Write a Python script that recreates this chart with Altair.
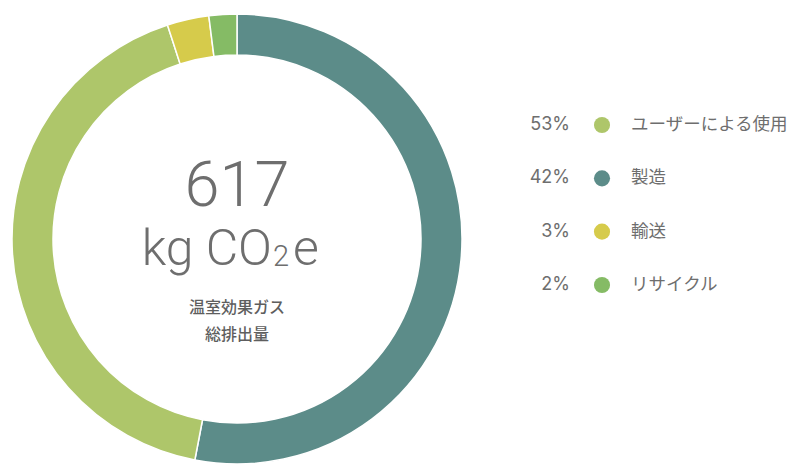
import altair as alt
import pandas as pd

# Ring segments, clockwise from 12 o'clock (as drawn)
seg_names = ["製造", "ユーザーによる使用", "輸送", "リサイクル"]
seg_values = [53, 42, 3, 2]
seg_colors = ["#5c8c89", "#aec66a", "#d6cb4b", "#85bb65"]

# Legend (as drawn)
leg_pct = ["53%", "42%", "3%", "2%"]
leg_names = ["ユーザーによる使用", "製造", "輸送", "リサイクル"]
leg_colors = ["#aec66a", "#5c8c89", "#d6cb4b", "#85bb65"]

total_value = "617"
unit_main = "kg CO"
unit_sub = "2"
unit_tail = "e"
caption = ["温室効果ガス", "総排出量"]

LATIN = "Inter, Noto Sans CJK JP, sans-serif"
THIN = "Roboto, Inter, sans-serif"
CJK = "Noto Sans CJK JP, sans-serif"
GRAY = "#6e6e6e"

seg_df = pd.DataFrame({"name": seg_names, "value": seg_values,
                       "color": seg_colors, "ord": list(range(len(seg_names)))})
leg_df = pd.DataFrame({"pct": leg_pct, "name": leg_names, "color": leg_colors,
                       "row": list(range(len(leg_names)))})

ring = alt.Chart(seg_df).mark_arc(
    innerRadius=184, outerRadius=225, stroke="white", strokeWidth=1.5
).encode(
    theta=alt.Theta("value:Q", stack=True),
    order=alt.Order("ord:Q"),
    color=alt.Color("color:N", scale=None, legend=None),
    x=alt.value(237), y=alt.value(239),
)

def label(txt, x, y, size, font=LATIN, align="center", baseline="alphabetic",
          color=GRAY, weight=400):
    return alt.Chart(pd.DataFrame({"t": [txt]})).mark_text(
        font=font, fontSize=size, align=align, baseline=baseline,
        color=color, fontWeight=weight
    ).encode(text="t:N", x=alt.value(x), y=alt.value(y))

center = [
    label(total_value, 237, 206, 63, font=THIN, weight=300),
    label(unit_main, 272, 265, 50, font=THIN, align="right", weight=300),
    label(unit_sub, 273, 266, 29, font=THIN, align="left", weight=300),
    label(unit_tail, 293, 265, 50, font=THIN, align="left", weight=300),
    label(caption[0], 237, 308, 16, font=CJK, baseline="middle", color="#5e5e5e", weight=500),
    label(caption[1], 237, 335, 16, font=CJK, baseline="middle", color="#5e5e5e", weight=500),
]

ypos = alt.Y("row:Q", scale=alt.Scale(domain=[0, 3], range=[125, 285]), axis=None)

leg_pct_mark = alt.Chart(leg_df).mark_text(
    font=LATIN, fontSize=18, align="right", baseline="middle", color=GRAY
).encode(text="pct:N", x=alt.value(570), y=ypos)

leg_dot = alt.Chart(leg_df).mark_point(
    filled=True, size=260, opacity=1, shape="circle"
).encode(x=alt.value(602), y=ypos,
         color=alt.Color("color:N", scale=None, legend=None))

leg_name = alt.Chart(leg_df).mark_text(
    font=CJK, fontSize=17.5, align="left", baseline="middle", color=GRAY
).encode(text="name:N", x=alt.value(631), y=ypos)

chart = alt.layer(ring, *center, leg_pct_mark, leg_dot, leg_name).properties(
    width=793, height=464, padding=0,
    autosize=alt.AutoSizeParams(type="none"),
).configure_view(stroke=None)

chart.save("out.html", embed_options={"renderer": "svg", "actions": False})
